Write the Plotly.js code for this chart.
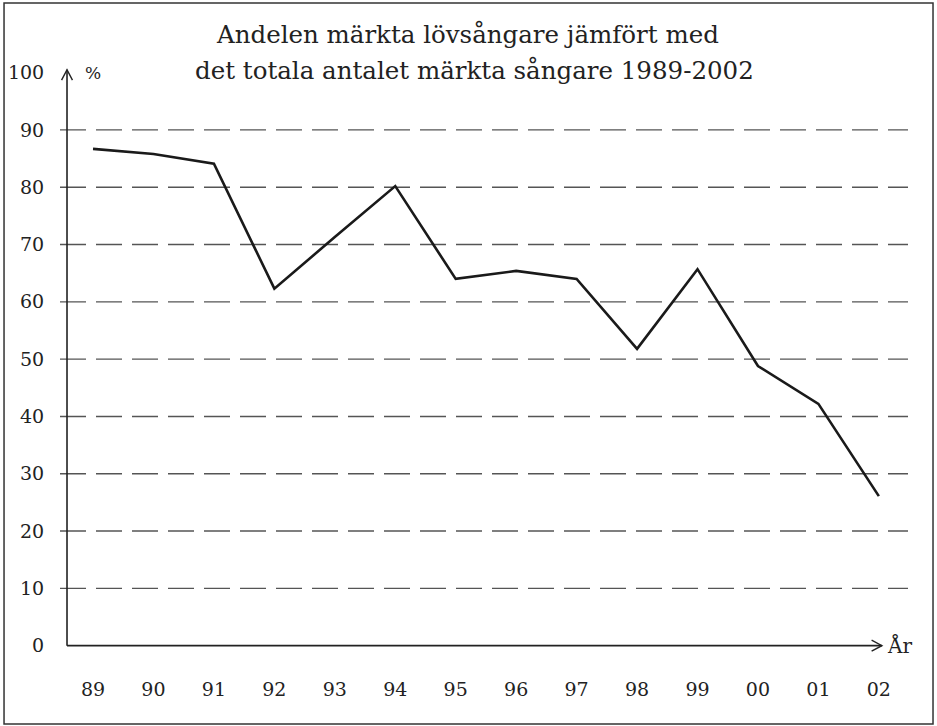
<!DOCTYPE html>
<html>
<head>
<meta charset="utf-8">
<script src="https://cdn.plot.ly/plotly-3.0.1.min.js"></script>
<style>
html,body{margin:0;padding:0;background:#fff;}
#chart{width:937px;height:726px;}
</style>
</head>
<body>
<div id="chart"></div>
<script>
const years = ["89","90","91","92","93","94","95","96","97","98","99","00","01","02"];
const share = [86.7, 85.8, 84.1, 62.3, 71.3, 80.2, 64.0, 65.4, 64.0, 51.8, 65.7, 48.8, 42.2, 26.1];
const yTicks = [0,10,20,30,40,50,60,70,80,90,100];
const gridVals = [10,20,30,40,50,60,70,80,90];
const titleLines = ["Andelen märkta lövsångare jämfört med", "det totala antalet märkta sångare 1989-2002"];

const xIdx = years.map((_, i) => i);
const axisColor = "#222";
const FONT = "DejaVu Serif";

const xAxisStart = -0.43, xAxisEnd = 13.05;
const yAxisTop = 100.5;

const shapes = [];
gridVals.forEach(v => shapes.push({
  type: "line", xref: "paper", yref: "y", x0: 0, x1: 1, y0: v, y1: v,
  line: {color: "#555", width: 1.4, dash: "26px,10px"}, layer: "below"
}));
shapes.push({type:"line", xref:"x", yref:"y", x0:xAxisStart, x1:xAxisEnd, y0:0, y1:0, line:{color:axisColor, width:1.6}});
shapes.push({type:"path", xref:"x", yref:"y",
  path:`M ${xAxisEnd-0.17} 0.95 L ${xAxisEnd} 0 L ${xAxisEnd-0.17} -0.95`, line:{color:axisColor, width:1.4}});
shapes.push({type:"line", xref:"x", yref:"y", x0:xAxisStart, x1:xAxisStart, y0:0, y1:yAxisTop, line:{color:axisColor, width:1.6}});
shapes.push({type:"path", xref:"x", yref:"y",
  path:`M ${xAxisStart-0.09} ${yAxisTop-1.8} L ${xAxisStart} ${yAxisTop} L ${xAxisStart+0.09} ${yAxisTop-1.8}`, line:{color:axisColor, width:1.4}});
shapes.push({type:"rect", xref:"paper", yref:"paper", x0:-0.066, x1:1.0295, y0:-0.1067, y1:1.095,
  line:{color:"#333", width:1.5}});

const data = [{
  x: xIdx, y: share, type: "scatter", mode: "lines",
  line: {color: "#1a1a1a", width: 2.6}, hoverinfo: "skip"
}];

const layout = {
  width: 937, height: 726,
  margin: {l: 60, r: 29, t: 60, b: 66},
  paper_bgcolor: "#fff", plot_bgcolor: "#fff",
  showlegend: false,
  font: {family: FONT, color: "#222", size: 19},
  xaxis: {range: [-0.546, 13.482], tickvals: xIdx, ticktext: years,
          showgrid: false, zeroline: false, showline: false,
          ticks: "outside", ticklen: 12, tickcolor: "rgba(0,0,0,0)",
          tickfont: {family: FONT, size: 19, color: "#222"}, fixedrange: true},
  yaxis: {range: [-2.5, 102.2], tickvals: yTicks,
          showgrid: false, zeroline: false, showline: false,
          ticks: "outside", ticklen: 11, tickcolor: "rgba(0,0,0,0)",
          tickfont: {family: FONT, size: 19, color: "#222"}, fixedrange: true},
  shapes: shapes,
  annotations: [
    {text: titleLines[0], xref: "paper", yref: "paper", x: 0.481, y: 1.0417, xanchor: "center", yanchor: "middle",
     showarrow: false, font: {family: FONT, size: 24.5, color: "#222"}},
    {text: titleLines[1], xref: "paper", yref: "paper", x: 0.489, y: 0.9833, xanchor: "center", yanchor: "middle",
     showarrow: false, font: {family: FONT, size: 24.5, color: "#222"}},
    {text: "%", xref: "x", yref: "y", x: 0, y: 100, xanchor: "center", yanchor: "middle",
     showarrow: false, font: {family: FONT, size: 17, color: "#222"}},
    {text: "År", xref: "x", yref: "y", x: xAxisEnd + 0.05, y: 0, xanchor: "left", yanchor: "middle",
     showarrow: false, font: {family: FONT, size: 20, color: "#222"}}
  ]
};

Plotly.newPlot("chart", data, layout, {displayModeBar: false, staticPlot: true});
</script>
</body>
</html>
